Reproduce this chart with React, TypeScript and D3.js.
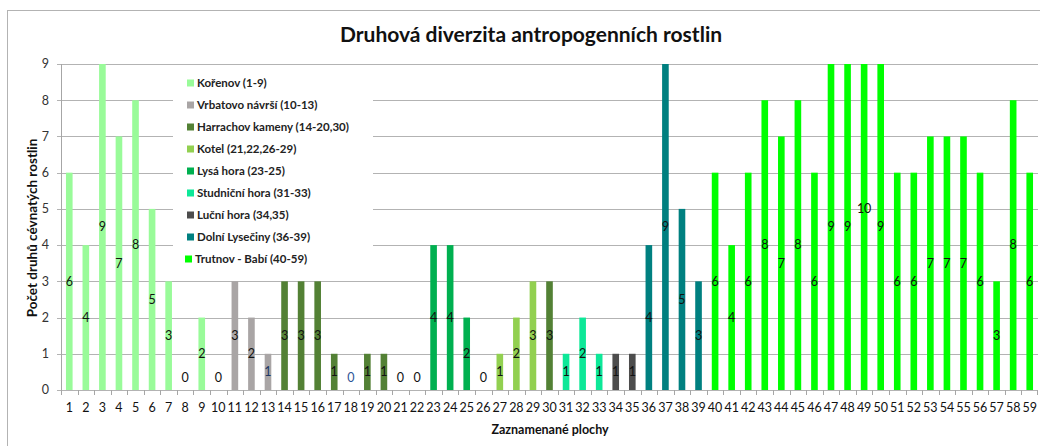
import React from "react";
import * as d3 from "d3";

const categories: string[] = Array.from({ length: 59 }, (_, i) => String(i + 1));
const values: number[] = [
  6, 4, 9, 7, 8, 5, 3, 0, 2, 0,
  3, 2, 1, 3, 3, 3, 1, 0, 1, 1,
  0, 0, 4, 4, 2, 0, 1, 2, 3, 3,
  1, 2, 1, 1, 1, 4, 9, 5, 3, 6,
  4, 6, 8, 7, 8, 6, 9, 9, 10, 9,
  6, 6, 7, 7, 7, 6, 3, 8, 6,
];
// group index for each category
const groupOf: number[] = [
  0, 0, 0, 0, 0, 0, 0, 0, 0, 1,
  1, 1, 1, 2, 2, 2, 2, 2, 2, 2,
  3, 3, 4, 4, 4, 3, 3, 3, 3, 2,
  5, 5, 5, 6, 6, 7, 7, 7, 7, 8,
  8, 8, 8, 8, 8, 8, 8, 8, 8, 8,
  8, 8, 8, 8, 8, 8, 8, 8, 8,
];
const groupNames: string[] = [
  "Kořenov (1-9)",
  "Vrbatovo návrší (10-13)",
  "Harrachov kameny (14-20,30)",
  "Kotel (21,22,26-29)",
  "Lysá hora (23-25)",
  "Studniční hora (31-33)",
  "Luční hora (34,35)",
  "Dolní Lysečiny (36-39)",
  "Trutnov - Babí  (40-59)",
];
const groupColors: string[] = [
  "#99FB99", "#A9A5A5", "#538135", "#92D050", "#00B050",
  "#0DE898", "#4D4D4D", "#008080", "#00FF00",
];
const yTicks: number[] = [0, 1, 2, 3, 4, 5, 6, 7, 8, 9];

const FONT = "Lato, 'Open Sans', sans-serif";

export default function App() {
  const W = 1040, H = 446;
  const left = 61, right = 1038, top = 64, bottom = 390;
  const x = d3.scaleBand<string>().domain(categories).range([left, right]).paddingInner(0.6).paddingOuter(0.3);
  const xc = d3.scaleBand<string>().domain(categories).range([left, right]).padding(0);
  const y = d3.scaleLinear().domain([0, 9]).range([bottom, top]);

  const labelColor = (i: number) => (i === 12 ? "#1F3864" : i === 17 ? "#2F5597" : "#111");

  return (
    <svg width={W} height={H} style={{ position: "absolute", left: 0, top: 0, background: "#fff" }} fontFamily={FONT}>
      <defs>
        <clipPath id="plot">
          <rect x={left} y={top} width={right - left} height={bottom - top} />
        </clipPath>
      </defs>
      <rect x={7.5} y={10.5} width={W} height={H} fill="#fff" stroke="#B3B3B3" />
      <text x={531} y={42} textAnchor="middle" fontSize={21} fontWeight={700} fill="#111">
        Druhová diverzita antropogenních rostlin
      </text>
      {/* gridlines */}
      {yTicks.map((t) => (
        <line key={"g" + t} x1={left - 4} x2={right} y1={Math.round(y(t)) + 0.5} y2={Math.round(y(t)) + 0.5} stroke="#B3B3B3" />
      ))}
      {/* y axis */}
      <line x1={left + 0.5} x2={left + 0.5} y1={top} y2={bottom} stroke="#A6A6A6" />
      {yTicks.map((t) => (
        <text key={"yt" + t} x={49} y={y(t)} dy="0.35em" textAnchor="end" fontSize={12.5} fill="#333">
          {t}
        </text>
      ))}
      {/* x tick marks */}
      {categories.map((c) => (
        <line key={"xt" + c} x1={Math.round(xc(c)!) + 0.5} x2={Math.round(xc(c)!) + 0.5} y1={bottom} y2={bottom + 5} stroke="#A6A6A6" />
      ))}
      <line x1={right - 0.5} x2={right - 0.5} y1={bottom} y2={bottom + 5} stroke="#A6A6A6" />
      {categories.map((c) => (
        <text key={"xl" + c} x={xc(c)! + xc.bandwidth() / 2} y={408} dy="0.35em" textAnchor="middle" fontSize={12.5} fill="#111">
          {c}
        </text>
      ))}
      {/* bars */}
      <g clipPath="url(#plot)">
        {categories.map((c, i) => (
          <rect
            key={"b" + c}
            x={x(c)!}
            width={x.bandwidth()}
            y={y(values[i])}
            height={bottom - y(values[i])}
            fill={groupColors[groupOf[i]]}
          />
        ))}
      </g>
      {/* data labels */}
      {categories.map((c, i) => (
        <text
          key={"dl" + c}
          x={x(c)! + x.bandwidth() / 2}
          y={values[i] === 0 ? bottom - 12 : y(values[i] / 2)}
          dy="0.35em"
          textAnchor="middle"
          fontSize={12.5}
          fill={labelColor(i)}
        >
          {values[i]}
        </text>
      ))}
      {/* legend */}
      <rect x={173} y={66} width={200} height={208} fill="#fff" />
      {groupNames.map((g, i) => (
        <g key={"lg" + i} transform={`translate(${i === 8 ? 185 : 187},${83 + i * 22})`}>
          <rect x={0} y={-3.5} width={7} height={7} fill={groupColors[i]} />
          <text x={10} y={0} dy="0.35em" fontSize={11.5} fontWeight={700} fill="#222">
            {g}
          </text>
        </g>
      ))}
      {/* axis titles */}
      <text transform={`translate(37,228) rotate(-90)`} textAnchor="middle" fontSize={13.5} fontWeight={700} fill="#111">
        Počet druhů cévnatých rostlin
      </text>
      <text x={550} y={434} textAnchor="middle" fontSize={12.5} fontWeight={700} fill="#111">
        Zaznamenané plochy
      </text>
    </svg>
  );
}
